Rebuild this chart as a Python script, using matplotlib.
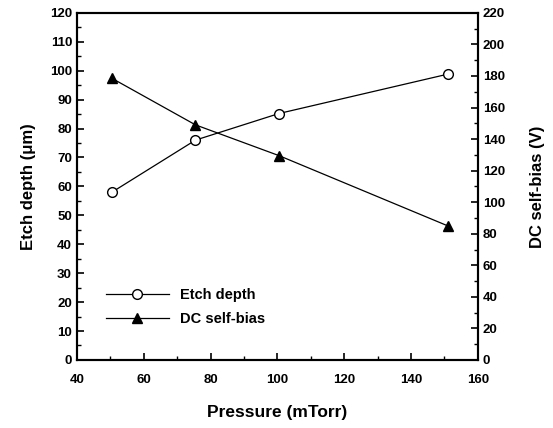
import matplotlib.pyplot as plt
from matplotlib.ticker import MultipleLocator

plt.rcParams['font.family'] = ['Liberation Sans', 'DejaVu Sans']
plt.rcParams['font.weight'] = 'bold'

pressure = [50.5, 75.5, 100.5, 151]
etch_depth = [58, 76, 85.2, 98.8]
self_bias = [178.5, 149, 129.5, 85]

fig = plt.figure(figsize=(5.53, 4.28), dpi=100)
ax = fig.add_axes([0.139, 0.159, 0.725, 0.811])
ax2 = ax.twinx()

l1, = ax.plot(pressure, etch_depth, '-o', color='black', mfc='white', mec='black',
              ms=7, lw=0.9, label='Etch depth')
l2, = ax2.plot(pressure, self_bias, '-^', color='black', ms=7, lw=0.9, label='DC self-bias')

ax.set_xlim(40, 160)
ax.set_ylim(0, 120)
ax2.set_ylim(0, 220)

ax.xaxis.set_major_locator(MultipleLocator(20))
ax.xaxis.set_minor_locator(MultipleLocator(10))
ax.yaxis.set_major_locator(MultipleLocator(10))
ax.yaxis.set_minor_locator(MultipleLocator(5))
ax2.yaxis.set_major_locator(MultipleLocator(20))
ax2.yaxis.set_minor_locator(MultipleLocator(10))

for a in (ax, ax2):
    a.tick_params(which='major', direction='in', length=5, width=1.2, labelsize=9.5)
    a.tick_params(which='minor', direction='in', length=3, width=1)
    for s in a.spines.values():
        s.set_linewidth(1.5)
ax.tick_params(axis='x', pad=10)

ax.set_xlabel('Pressure (mTorr)', fontsize=12.5, fontweight='bold', labelpad=14)
ax.set_ylabel('Etch depth (\u03bcm)', fontsize=12, fontweight='bold', labelpad=10)
ax2.set_ylabel('DC self-bias (V)', fontsize=12, fontweight='bold', labelpad=18)

ax2.legend([l1, l2], ['Etch depth', 'DC self-bias'], loc='lower left',
           bbox_to_anchor=(0.04, 0.06), frameon=False, handlelength=4.3,
           fontsize=10.5, labelspacing=0.7, handletextpad=0.8)

fig.savefig('out.png', dpi=100)
